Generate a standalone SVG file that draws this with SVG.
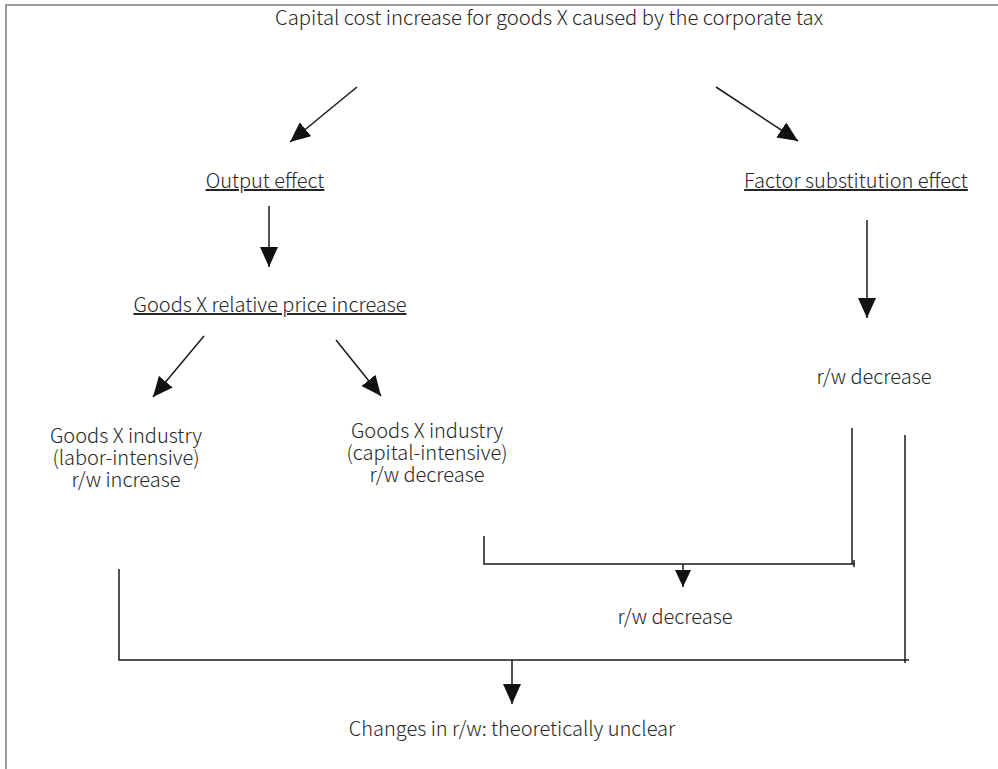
<svg xmlns="http://www.w3.org/2000/svg" width="998" height="769" viewBox="0 0 998 769">
  <style>
    .t { font-family: "Noto Sans CJK KR", "Source Sans Pro", "Noto Sans", sans-serif; font-size: 20px; font-weight: 300; fill: #262626; }
    .c { text-anchor: middle; }
    .u { text-decoration: underline; }
    .ln { stroke: #1a1a1a; stroke-width: 1.5; fill: none; }
    .frame { stroke: #999; stroke-width: 2; fill: none; }
  </style>
  <defs>
    <marker id="head" viewBox="0 0 20 18" refX="20" refY="9" markerWidth="20" markerHeight="18" markerUnits="userSpaceOnUse" orient="auto">
      <path d="M0,0 L20,9 L0,18 Z" fill="#111"/>
    </marker>
    <marker id="head-sm" viewBox="0 0 17 16" refX="17" refY="8" markerWidth="17" markerHeight="16" markerUnits="userSpaceOnUse" orient="auto">
      <path d="M0,0 L17,8 L0,16 Z" fill="#111"/>
    </marker>
  </defs>

  <rect width="998" height="769" fill="#fff"/>
  <!-- page frame (top and left edges) -->
  <path class="frame" d="M6,769 V5 H998"/>

  <g id="capital-cost">
    <text class="t c" x="549" y="25" textLength="548" lengthAdjust="spacingAndGlyphs">Capital cost increase for goods X caused by the corporate tax</text>
  </g>
  <g id="output-effect">
    <text class="t c u" x="265" y="188">Output effect</text>
  </g>
  <g id="factor-substitution">
    <text class="t c u" x="856" y="188">Factor substitution effect</text>
  </g>
  <g id="relative-price">
    <text class="t c u" x="270" y="312">Goods X relative price increase</text>
  </g>
  <g id="rw-decrease-substitution">
    <text class="t c" x="874" y="384">r/w decrease</text>
  </g>
  <g id="labor-intensive">
    <text class="t c" x="126" y="443">Goods X industry</text>
    <text class="t c" x="126" y="465">(labor-intensive)</text>
    <text class="t c" x="126" y="487">r/w increase</text>
  </g>
  <g id="capital-intensive">
    <text class="t c" x="427" y="438">Goods X industry</text>
    <text class="t c" x="427" y="460">(capital-intensive)</text>
    <text class="t c" x="427" y="482">r/w decrease</text>
  </g>
  <g id="rw-decrease-combined">
    <text class="t c" x="675" y="624">r/w decrease</text>
  </g>
  <g id="rw-unclear">
    <text class="t c" x="512" y="736">Changes in r/w: theoretically unclear</text>
  </g>

  <g id="connectors">
    <line class="ln" x1="357" y1="87" x2="290" y2="142" marker-end="url(#head)"/>
    <line class="ln" x1="716" y1="87" x2="798" y2="141" marker-end="url(#head)"/>
    <line class="ln" x1="269" y1="206" x2="269" y2="267" marker-end="url(#head)"/>
    <line class="ln" x1="867" y1="220" x2="867" y2="318" marker-end="url(#head)"/>
    <line class="ln" x1="204" y1="336" x2="153" y2="397" marker-end="url(#head)"/>
    <line class="ln" x1="336" y1="340" x2="381" y2="396" marker-end="url(#head)"/>
    <!-- bracket joining capital-intensive and substitution r/w decrease -->
    <path class="ln" d="M484,536 V564 H855"/>
    <line class="ln" x1="852" y1="428" x2="852" y2="564"/>
    <line class="ln" x1="854" y1="560" x2="854" y2="567"/>
    <line class="ln" x1="683" y1="564" x2="683" y2="587" marker-end="url(#head-sm)"/>
    <!-- outer bracket joining all effects -->
    <path class="ln" d="M119,569 V660 H909"/>
    <line class="ln" x1="905" y1="435" x2="905" y2="663"/>
    <line class="ln" x1="512" y1="660" x2="512" y2="704" marker-end="url(#head)"/>
  </g>
</svg>
